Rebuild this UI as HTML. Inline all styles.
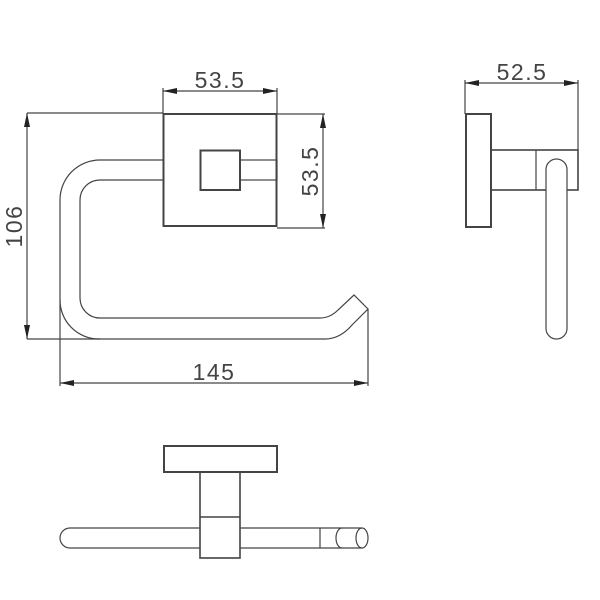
<!DOCTYPE html>
<html><head><meta charset="utf-8"><style>
html,body{margin:0;padding:0;background:#fff;}
svg{display:block;}
text{font-family:"Liberation Sans",sans-serif;font-size:23px;fill:#444;letter-spacing:1.5px;}
</style></head><body>
<svg width="600" height="600" viewBox="0 0 600 600" xmlns="http://www.w3.org/2000/svg">
<defs>
<marker id="a" viewBox="0 0 14 6" refX="14" refY="3" markerWidth="14" markerHeight="6" orient="auto-start-reverse" markerUnits="userSpaceOnUse">
<path d="M0,0 L14,3 L0,6 Z" fill="#222"/></marker>
</defs>
<g fill="none" stroke="#444" stroke-width="1.2">
<line x1="163" y1="88" x2="163" y2="114"/>
<line x1="277" y1="88" x2="277" y2="114"/>
<line x1="163" y1="91" x2="277" y2="91" marker-start="url(#a)" marker-end="url(#a)"/>
<rect x="163.5" y="114" width="113" height="112" stroke-width="2"/>
<line x1="163" y1="113" x2="27" y2="113"/>
<line x1="100" y1="339" x2="27" y2="339"/>
<line x1="27" y1="113" x2="27" y2="339" marker-start="url(#a)" marker-end="url(#a)"/>
<line x1="277" y1="114" x2="325" y2="114"/>
<line x1="277" y1="228" x2="325" y2="228"/>
<line x1="323" y1="114" x2="323" y2="228" marker-start="url(#a)" marker-end="url(#a)"/>
<path d="M163,160 L100,160 A40,40 0 0 0 60,200 L60,300 A39,39 0 0 0 99,339 L325,339 Q340,339 352,325 L368,309 L354,295 L338,310 Q330,318 320,318 L100,318 A20,20 0 0 1 80,298 L80,200 A20,20 0 0 1 100,180 L163,180"/>
<rect x="240" y="160" width="37" height="20"/>
<rect x="200.5" y="150.5" width="39.5" height="39.5" stroke-width="2"/>
<line x1="60" y1="300" x2="60" y2="386"/>
<line x1="368" y1="309" x2="368" y2="386"/>
<line x1="60" y1="383" x2="368" y2="383" marker-start="url(#a)" marker-end="url(#a)"/>
<line x1="465" y1="80" x2="465" y2="114"/>
<line x1="578" y1="80" x2="578" y2="150"/>
<line x1="465" y1="83" x2="578" y2="83" marker-start="url(#a)" marker-end="url(#a)"/>
<rect x="466" y="114" width="25" height="113" stroke-width="2"/>
<rect x="491" y="150" width="87" height="40" stroke-width="1.6"/>
<line x1="536" y1="150" x2="536" y2="190"/>
<rect x="546" y="159" width="21" height="180" rx="10.5" fill="#fff"/>
<rect x="164" y="446" width="113" height="26" stroke-width="2"/>
<rect x="200" y="472" width="40" height="86" stroke-width="1.6"/>
<line x1="200" y1="517" x2="240" y2="517" stroke-width="1.6"/>
<path d="M200,528 L70,528 A10,10 0 0 0 70,548 L200,548"/>
<path d="M240,528 L362,528 M240,548 L362,548"/>
<line x1="320" y1="528" x2="320" y2="548"/>
<path d="M342,528 A6,10 0 0 0 342,548"/>
<ellipse cx="362" cy="538" rx="6" ry="10"/>
</g>
<text x="220" y="88" text-anchor="middle">53.5</text>
<text x="522" y="80" text-anchor="middle">52.5</text>
<text x="214" y="380" text-anchor="middle">145</text>
<text transform="translate(22,226) rotate(-90)" text-anchor="middle">106</text>
<text transform="translate(318,171) rotate(-90)" text-anchor="middle">53.5</text>
</svg>
</body></html>
